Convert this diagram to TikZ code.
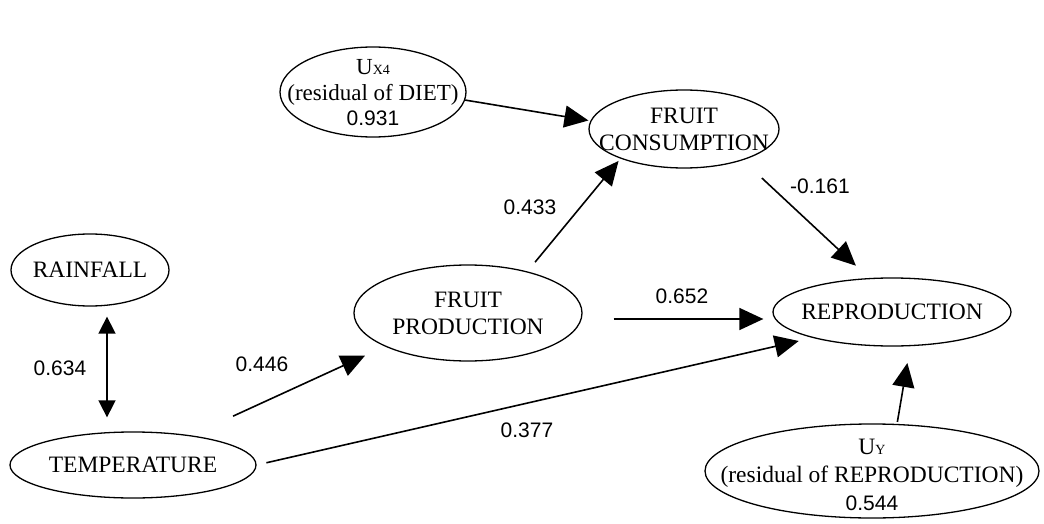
\documentclass[tikz,border=0pt]{standalone}
\usepackage{fontspec}
\setmainfont{Liberation Serif}
\newfontfamily\numfont{Liberation Sans}
\usetikzlibrary{arrows.meta,shapes.geometric}

\newcommand{\smallsub}[1]{{\fontsize{14}{14}\selectfont #1}}

\tikzset{
	var/.style={ellipse, draw, line width=1.3pt, inner sep=0pt},
	vartext/.style={align=center, inner sep=0pt, font=\fontsize{23.5}{27}\selectfont},
	coef/.style={inner sep=0pt, font=\numfont\fontsize{21}{25}\selectfont},
	path/.style={->, line width=1.6pt},
}

\begin{document}
\begin{tikzpicture}[>={Triangle[length=24pt,width=22pt]}, x=1pt, y=-1pt]
		\useasboundingbox (0,0) rectangle (1044,524);
		
		\node[var, minimum width=186pt, minimum height=90pt,
			label={[vartext, yshift=-1pt, font=\fontsize{23}{25.5}\selectfont]center:{U\smallsub{X4}\\(residual of DIET)\\{\numfont\fontsize{21}{25.5}\selectfont 0.931}}}] (ux4) at (373,92) {};
		\node[var, minimum width=190pt, minimum height=78pt,
			label={[vartext]center:{FRUIT\\CONSUMPTION}}] (fc) at (684,129) {};
		\node[var, minimum width=158pt, minimum height=72pt,
			label={[vartext]center:RAINFALL}] (rain) at (90,270) {};
		\node[var, minimum width=228pt, minimum height=96pt,
			label={[vartext]center:{FRUIT\\PRODUCTION}}] (fp) at (468,313) {};
		\node[var, minimum width=238pt, minimum height=68pt,
			label={[vartext]center:REPRODUCTION}] (repro) at (892,312) {};
		\node[var, minimum width=246pt, minimum height=66pt,
			label={[vartext]center:TEMPERATURE}] (temp) at (133,465) {};
		\node[var, minimum width=334pt, minimum height=94pt,
			label={[vartext, yshift=-4pt, font=\fontsize{23.5}{28}\selectfont]center:{U\smallsub{Y}\\(residual of REPRODUCTION)\\{\numfont\fontsize{21}{28}\selectfont 0.544}}}] (uy) at (872,471) {};
		
		\foreach \nm/\x/\y/\val in {c433/530/207/0.433, c161/820/186/-0.161, c652/682/296/0.652,
			c446/262/364/0.446, c377/527/430/0.377, c634/60/368/0.634}
		{
			\node[coef] (\nm) at (\x,\y) {\val};
		}
		
		\draw[path, shorten >=2pt] (ux4.-5) -- (fc.175);
		\draw[path, shorten <=12pt, shorten >=3pt] (fp.35) -- (fc.205);
		\draw[path, shorten <=26pt, shorten >=18pt] (fc.-28) -- (repro.124);
		\draw[path, shorten <=31pt, shorten >=9pt] ([yshift=-6pt]fp.east) -- ([yshift=-6pt]fp.east -| repro.west);
		\draw[path, shorten <=46pt, shorten >=22pt] (temp.27) -- (fp.202);
		\draw[path, shorten <=10pt, shorten >=14pt] (temp.east) -- (repro.198);
		\draw[path, <->, >={Triangle[length=17pt,width=17pt]}, shorten <=10pt, shorten >=14pt]
			([xshift=17pt]rain.south) -- ([xshift=-26pt]temp.north);
		\draw[path, shorten <=2pt, shorten >=17pt] (uy.62) -- (repro.-62);
\end{tikzpicture}
\end{document}
